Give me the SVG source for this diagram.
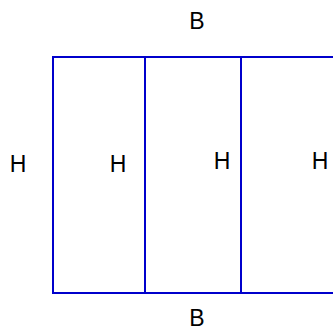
<svg xmlns="http://www.w3.org/2000/svg" width="333" height="333" viewBox="0 0 333 333">
<style>
.ln{stroke:#0000cc;stroke-width:2;fill:none}
.t{font-family:"Liberation Sans",Arial,sans-serif;font-size:23px;fill:#000;text-anchor:middle}
</style>
<rect width="333" height="333" fill="#fff"/>
<g id="frame">
<path class="ln" d="M340 57 H53 V293 H340"/>
<line class="ln" x1="145" y1="57" x2="145" y2="293"/>
<line class="ln" x1="241" y1="57" x2="241" y2="293"/>
</g>
<g id="labels">
<text class="t" x="197" y="29">B</text>
<text class="t" x="197" y="326">B</text>
<text class="t" x="18" y="172">H</text>
<text class="t" x="118" y="172">H</text>
<text class="t" x="222" y="169">H</text>
<text class="t" x="320" y="169">H</text>
</g>
</svg>
